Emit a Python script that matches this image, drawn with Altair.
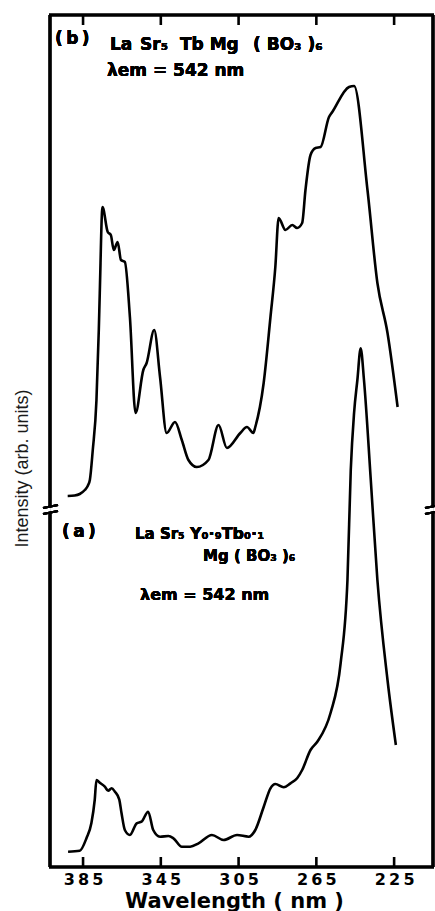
import altair as alt
import pandas as pd

# ---- data (wavelength in nm, intensity in arb. units) ----
b_wavelength = [392.9, 389.3, 386.7, 384.1, 382.6, 381.5, 380.0, 378.1, 376.9, 376.4,
                375.0, 372.3, 370.7, 369.2, 367.2, 365.5, 363.5, 360.9, 358.0, 354.0,
                352.3, 348.4, 345.4, 342.0, 337.7, 334.2, 330.8, 326.5, 320.5, 315.3,
                311.0, 304.1, 300.7, 297.4, 296.4, 292.1, 288.6, 286.1, 284.4, 280.9,
                277.4, 274.9, 272.3, 270.6, 268.0, 265.4, 262.8, 258.5, 256.8, 248.2,
                245.6, 238.7, 233.6, 228.4, 223.2]
b_intensity = [371, 371.5, 373, 377, 381, 387, 417, 467, 537, 574,
               660, 635, 632, 617, 625, 607, 605, 550, 454, 497,
               504, 537, 490, 434, 445, 427, 407, 400, 407, 442,
               419, 434, 440, 434, 440, 484, 550, 600, 649, 637,
               642, 639, 644, 677, 712, 719, 720, 750, 755, 780,
               781, 677, 584, 534, 460]

a_wavelength = [392.7, 386.7, 383.2, 380.7, 379.0, 378.1, 376.4, 373.8, 372.1, 370.3,
                368.6, 366.4, 365.2, 363.5, 360.9, 357.4, 354.9, 351.5, 348.9, 345.4,
                341.1, 338.5, 334.2, 329.9, 325.6, 318.7, 312.7, 305.8, 299.8, 296.4,
                292.1, 288.6, 286.1, 281.8, 278.3, 274.9, 272.3, 268.0, 264.5, 257.7,
                252.5, 249.0, 247.3, 245.6, 243.9, 242.2, 240.5, 237.0, 233.6, 228.4,
                224.1]
a_intensity = [15.3, 16.3, 29, 44, 67, 87, 84.3, 80.3, 76.3, 78.7,
               75.3, 67.7, 53.7, 37, 32, 43.7, 45.3, 55.3, 37, 30.3,
               31, 28.7, 20.3, 20.3, 23.7, 32, 27, 32, 30.3, 37,
               60, 78.7, 83, 79.7, 83.7, 88.7, 97, 117, 125.3, 154,
               204, 287, 397, 454, 487, 518.7, 487, 387, 287, 187,
               122]

tick_values = [385, 345, 305, 265, 225]

df = pd.concat([
    pd.DataFrame({"wavelength": b_wavelength, "intensity": b_intensity, "sample": "b"}),
    pd.DataFrame({"wavelength": a_wavelength, "intensity": a_intensity, "sample": "a"}),
])
ticks_df = pd.DataFrame({"tick": tick_values})

W, H = 383, 852
FONT = "DejaVu Sans"
LW = 2.6

xscale = alt.Scale(domain=[205, 402], reverse=True, nice=False, zero=False)
yscale = alt.Scale(domain=[0, 852], nice=False, zero=False)

curves = alt.Chart(df).mark_line(color="black", strokeWidth=LW, strokeJoin="round",
                                 interpolate="monotone").encode(
    x=alt.X("wavelength:Q", scale=xscale,
            axis=alt.Axis(values=tick_values, title="Wavelength ( nm )", grid=False, domain=False,
                          ticks=False, tickSize=0, labelPadding=4, labelFont=FONT, labelFontSize=16,
                          labelFontWeight="bold", labelColor="black", titleFont=FONT,
                          labelExpr="join(split(datum.label, ''), '\u2009')",
                          titleFontSize=21, titleFontWeight="bold", titleColor="black",
                          titleX=184, titleAlign="center",
                          titleY=34, titleBaseline="middle", labelFlush=False)),
    y=alt.Y("intensity:Q", scale=yscale,
            axis=alt.Axis(title="Intensity (arb. units)", labels=False, ticks=False, domain=False,
                          grid=False, titleFont="Liberation Sans Narrow, Liberation Sans",
                          titleFontSize=18, titleFontWeight="normal", titleColor="#1a1a1a",
                          titleX=-28, titleY=453, titleBaseline="middle", titleAlign="center")),
    detail="sample:N",
    order=alt.Order("wavelength:Q", sort="descending"),
)

tick_bottom = alt.Chart(ticks_df).mark_rule(color="black", strokeWidth=LW).encode(
    x=alt.X("tick:Q", scale=xscale), y=alt.value(H - 10), y2=alt.value(H))
tick_top = alt.Chart(ticks_df).mark_rule(color="black", strokeWidth=LW).encode(
    x=alt.X("tick:Q", scale=xscale), y=alt.value(0), y2=alt.value(10))


def seg(x1, y1, x2, y2, w=LW):
    return alt.Chart(ticks_df).mark_rule(color="black", strokeWidth=w, strokeCap="butt").encode(
        x=alt.value(x1), y=alt.value(y1), x2=alt.value(x2), y2=alt.value(y2))


frame = [
    seg(-1, 0, W + 1, 0),
    seg(-1, H, W + 1, H),
    seg(0, 0, 0, 492),
    seg(0, 497, 0, H),
    seg(W, 0, W, 492),
    seg(W, 497, W, H),
    seg(-7, 493, 8, 490, 2),
    seg(-7, 499, 8, 496, 2),
    seg(W - 8, 493, W + 7, 490, 2),
    seg(W - 8, 499, W + 7, 496, 2),
]


def label(txt, x, y, size=16):
    return alt.Chart(ticks_df).mark_text(
        text=txt, align="left", baseline="middle", font=FONT, fontSize=size,
        fontWeight="bold", color="black").encode(x=alt.value(x), y=alt.value(y))


texts = [
    # panel (b)
    label("(\u2009b\u2009)", 5, 24, 17),
    label("La", 60, 30, 17),
    label("Sr\u2085", 90, 30, 17),
    label("Tb Mg", 130, 30, 17),
    label("( BO\u2083 )\u2086", 203, 30, 17),
    label("\u03bbem = 542 nm", 57, 56, 17),
    # panel (a)
    label("(\u2009a\u2009)", 12, 517, 17),
    label("La Sr\u2085", 85, 519, 15),
    label("Y\u2080\u00b7\u2089Tb\u2080\u00b7\u2081", 140, 519, 16),
    label("Mg ( BO\u2083 )\u2086", 153, 541, 15),
    label("\u03bbem = 542 nm", 90, 580, 16),
]

chart = alt.layer(curves, tick_bottom, tick_top, *frame, *texts).properties(
    width=W, height=H,
    autosize=alt.AutoSizeParams(type="none"),
    padding={"left": 50, "top": 15, "right": 2, "bottom": 44},
).configure_view(stroke=None).configure(background="white")

chart.save("out.html", embed_options={"renderer": "svg", "actions": False})
